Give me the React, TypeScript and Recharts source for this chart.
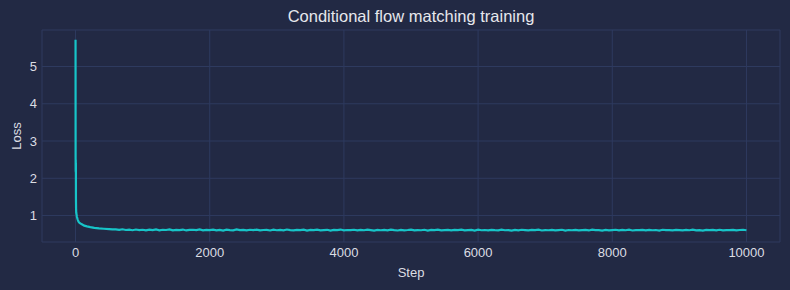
import React from 'react';
import { LineChart, Line, XAxis, YAxis, CartesianGrid } from 'recharts';

const earlySteps = [0, 1, 2, 3, 4, 5, 6, 8, 10, 15, 20, 30, 40, 50, 70, 100, 130, 170, 220, 280, 350, 420, 500, 550];
const earlyLoss = [5.72, 2.55, 2.18, 2.5, 2.16, 2.42, 1.45, 1.18, 1.08, 1.03, 0.97, 0.9, 0.85, 0.82, 0.79, 0.76, 0.73, 0.71, 0.69, 0.67, 0.655, 0.645, 0.635, 0.63];

const tailSteps = [
  600, 650, 700, 750, 800, 850, 900, 950, 1000, 1050,
  1100, 1150, 1200, 1250, 1300, 1350, 1400, 1450, 1500, 1550,
  1600, 1650, 1700, 1750, 1800, 1850, 1900, 1950, 2000, 2050,
  2100, 2150, 2200, 2250, 2300, 2350, 2400, 2450, 2500, 2550,
  2600, 2650, 2700, 2750, 2800, 2850, 2900, 2950, 3000, 3050,
  3100, 3150, 3200, 3250, 3300, 3350, 3400, 3450, 3500, 3550,
  3600, 3650, 3700, 3750, 3800, 3850, 3900, 3950, 4000, 4050,
  4100, 4150, 4200, 4250, 4300, 4350, 4400, 4450, 4500, 4550,
  4600, 4650, 4700, 4750, 4800, 4850, 4900, 4950, 5000, 5050,
  5100, 5150, 5200, 5250, 5300, 5350, 5400, 5450, 5500, 5550,
  5600, 5650, 5700, 5750, 5800, 5850, 5900, 5950, 6000, 6050,
  6100, 6150, 6200, 6250, 6300, 6350, 6400, 6450, 6500, 6550,
  6600, 6650, 6700, 6750, 6800, 6850, 6900, 6950, 7000, 7050,
  7100, 7150, 7200, 7250, 7300, 7350, 7400, 7450, 7500, 7550,
  7600, 7650, 7700, 7750, 7800, 7850, 7900, 7950, 8000, 8050,
  8100, 8150, 8200, 8250, 8300, 8350, 8400, 8450, 8500, 8550,
  8600, 8650, 8700, 8750, 8800, 8850, 8900, 8950, 9000, 9050,
  9100, 9150, 9200, 9250, 9300, 9350, 9400, 9450, 9500, 9550,
  9600, 9650, 9700, 9750, 9800, 9850, 9900, 9950, 10000,
];
const tailLoss = [
  0.628, 0.615, 0.632, 0.612, 0.622, 0.606, 0.625, 0.611, 0.619, 0.603,
  0.621, 0.609, 0.627, 0.604, 0.618, 0.612, 0.63, 0.601, 0.616, 0.61,
  0.624, 0.6, 0.613, 0.619, 0.607, 0.626, 0.603, 0.615, 0.61, 0.622,
  0.605, 0.617, 0.598, 0.621, 0.611, 0.604, 0.628, 0.609, 0.614, 0.6,
  0.619, 0.607, 0.623, 0.602, 0.612, 0.616, 0.599, 0.62, 0.606, 0.613,
  0.603, 0.625, 0.61, 0.6, 0.617, 0.608, 0.621, 0.598, 0.614, 0.609,
  0.622, 0.604, 0.611, 0.618, 0.597, 0.615, 0.607, 0.624, 0.601, 0.612,
  0.608, 0.619, 0.6, 0.613, 0.605, 0.62, 0.61, 0.598, 0.616, 0.606,
  0.614, 0.602, 0.621, 0.609, 0.599, 0.617, 0.604, 0.612, 0.623, 0.601,
  0.61, 0.606, 0.618, 0.597, 0.613, 0.608, 0.62, 0.603, 0.611, 0.615,
  0.6, 0.616, 0.607, 0.622, 0.602, 0.609, 0.614, 0.598, 0.619, 0.605,
  0.612, 0.6, 0.617, 0.608, 0.603, 0.621, 0.606, 0.61, 0.597, 0.615,
  0.604, 0.618, 0.609, 0.601, 0.613, 0.607, 0.62, 0.599, 0.611, 0.606,
  0.616, 0.602, 0.61, 0.619, 0.598, 0.612, 0.605, 0.617, 0.603, 0.609,
  0.614, 0.6, 0.621, 0.607, 0.611, 0.598, 0.616, 0.604, 0.61, 0.618,
  0.602, 0.613, 0.606, 0.62, 0.599, 0.611, 0.608, 0.615, 0.601, 0.617,
  0.605, 0.612, 0.598, 0.619, 0.607, 0.61, 0.603, 0.616, 0.609, 0.6,
  0.614, 0.606, 0.62, 0.602, 0.611, 0.597, 0.615, 0.608, 0.613, 0.604,
  0.618, 0.601, 0.61, 0.607, 0.616, 0.6, 0.612, 0.619, 0.605,
];

const xTicks = [0, 2000, 4000, 6000, 8000, 10000];
const yTicks = [1, 2, 3, 4, 5];

const steps = [...earlySteps, ...tailSteps];
const losses = [...earlyLoss, ...tailLoss];
const data = steps.map((s, i) => ({ step: s, loss: losses[i] }));

const BG = '#222944';
const GRID = '#2e3a5f';
const TEXT = '#dcdde3';
const FONT = '"Liberation Sans", Arial, Helvetica, sans-serif';

export default function App() {
  return (
    <div style={{ position: 'absolute', left: 0, top: 0, width: 790, height: 290, background: BG, fontFamily: FONT }}>
      <div style={{ position: 'absolute', left: 42, top: 8, width: 738, textAlign: 'center', fontSize: 16.5, lineHeight: '16px', color: '#e6e7ec' }}>
        Conditional flow matching training
      </div>
      <LineChart width={790} height={290} data={data} margin={{ top: 30, right: 10, bottom: 0, left: 0 }}>
        <CartesianGrid stroke={GRID} strokeWidth={1} />
        <XAxis
          dataKey="step"
          type="number"
          domain={[-500, 10500]}
          ticks={xTicks}
          axisLine={false}
          tickLine={false}
          tickSize={0}
          tickMargin={6}
          height={48}
          tick={{ fill: TEXT, fontSize: 13, fontFamily: FONT }}
          label={{ value: 'Step', position: 'insideBottom', offset: 13, fill: TEXT, fontSize: 13, fontFamily: FONT }}
        />
        <YAxis
          type="number"
          domain={[0.29, 5.98]}
          ticks={yTicks}
          axisLine={false}
          tickLine={false}
          tickSize={0}
          tickMargin={5}
          width={42}
          allowDataOverflow
          tick={{ fill: TEXT, fontSize: 13, fontFamily: FONT }}
          label={{ value: 'Loss', angle: -90, position: 'insideLeft', offset: 16, fill: TEXT, fontSize: 13, fontFamily: FONT, style: { textAnchor: 'middle' } }}
        />
        <Line
          type="linear"
          dataKey="loss"
          stroke="#17c4c8"
          strokeWidth={2.2}
          dot={false}
          isAnimationActive={false}
        />
      </LineChart>
    </div>
  );
}
